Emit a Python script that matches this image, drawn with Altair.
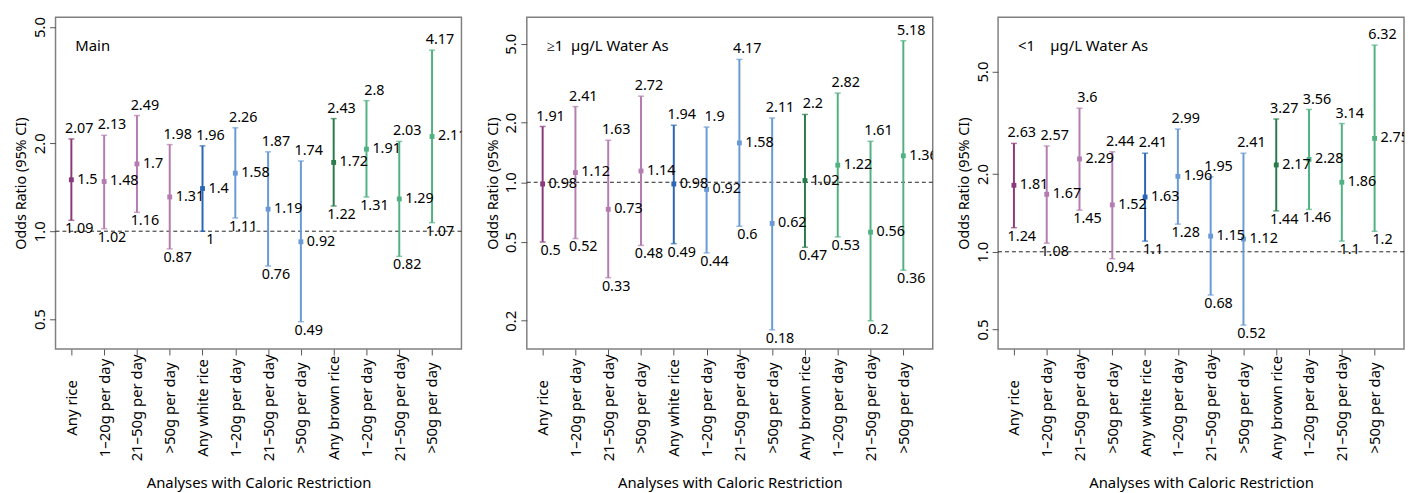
import altair as alt
import pandas as pd

categories = ["Any rice", "1–20g per day", "21–50g per day", ">50g per day",
              "Any white rice", "1–20g per day", "21–50g per day", ">50g per day",
              "Any brown rice", "1–20g per day", "21–50g per day", ">50g per day"]
tones = ["rice_any", "rice_dose", "rice_dose", "rice_dose",
         "white_any", "white_dose", "white_dose", "white_dose",
         "brown_any", "brown_dose", "brown_dose", "brown_dose"]

panel_titles = ["Main", "≥1\u00a0\u00a0µg/L Water As", "<1\u00a0\u00a0\u00a0\u00a0µg/L Water As"]

main_or = [1.5, 1.48, 1.7, 1.31, 1.4, 1.58, 1.19, 0.92, 1.72, 1.91, 1.29, 2.11]
main_lo = [1.09, 1.02, 1.16, 0.87, 1, 1.11, 0.76, 0.49, 1.22, 1.31, 0.82, 1.07]
main_hi = [2.07, 2.13, 2.49, 1.98, 1.96, 2.26, 1.87, 1.74, 2.43, 2.8, 2.03, 4.17]

high_or = [0.98, 1.12, 0.73, 1.14, 0.98, 0.92, 1.58, 0.62, 1.02, 1.22, 0.56, 1.36]
high_lo = [0.5, 0.52, 0.33, 0.48, 0.49, 0.44, 0.6, 0.18, 0.47, 0.53, 0.2, 0.36]
high_hi = [1.91, 2.41, 1.63, 2.72, 1.94, 1.9, 4.17, 2.11, 2.2, 2.82, 1.61, 5.18]

low_or = [1.81, 1.67, 2.29, 1.52, 1.63, 1.96, 1.15, 1.12, 2.17, 2.28, 1.86, 2.75]
low_lo = [1.24, 1.08, 1.45, 0.94, 1.1, 1.28, 0.68, 0.52, 1.44, 1.46, 1.1, 1.2]
low_hi = [2.63, 2.57, 3.6, 2.44, 2.41, 2.99, 1.95, 2.41, 3.27, 3.56, 3.14, 6.32]

y_domains = [[0.395, 5.4], [0.144, 6.8], [0.42, 8.1]]
y_ticks = [[0.5, 1.0, 2.0, 5.0], [0.2, 0.5, 1.0, 2.0, 5.0], [0.5, 1.0, 2.0, 5.0]]

tone_domain = ["rice_any", "rice_dose", "white_any", "white_dose", "brown_any", "brown_dose"]
tone_range = ["#8a3a78", "#b47cb0", "#2a68b5", "#6a9ad6", "#2b7a4c", "#50b282"]

FONT = "Noto Sans"
label_expr = "[" + ",".join('"%s"' % c for c in categories) + "][datum.value]"


def panel(title, ors, los, his, dom, ticks):
    df = pd.DataFrame({
        "idx": list(range(len(categories))),
        "tone": tones,
        "or": ors, "lo": los, "hi": his,
    })
    df["or_t"] = [("%g" % v) for v in ors]
    df["lo_t"] = [("%g" % v) for v in los]
    df["hi_t"] = [("%g" % v) for v in his]

    x = alt.X("idx:O",
              scale=alt.Scale(type="point", padding=0.69, align=0.35),
              axis=alt.Axis(title="Analyses with Caloric Restriction",
                            labelExpr=label_expr, labelAngle=-90,
                            labelAlign="center", labelBaseline="middle",
                            labelPadding=53, tickSize=6, domain=False,
                            labelFontSize=15, titleFontSize=15,
                            titlePadding=15))
    yscale = alt.Scale(type="log", domain=dom, nice=False, zero=False)
    color = alt.Color("tone:N", scale=alt.Scale(domain=tone_domain, range=tone_range), legend=None)

    base = alt.Chart(df).encode(x=x)
    bars = base.mark_rule(strokeWidth=2).encode(
        y=alt.Y("lo:Q", scale=yscale,
                axis=alt.Axis(title="Odds Ratio (95% CI)", values=ticks, format=".1f",
                              labelAngle=-90, labelAlign="center", labelBaseline="bottom",
                              labelFontSize=15, titleFontSize=14.5,
                              tickSize=6, domain=False, grid=False, titlePadding=4)),
        y2="hi:Q", color=color)
    cap_lo = base.mark_tick(size=6, thickness=1.5).encode(y=alt.Y("lo:Q", scale=yscale), color=color)
    cap_hi = base.mark_tick(size=6, thickness=1.5).encode(y=alt.Y("hi:Q", scale=yscale), color=color)
    pts = base.mark_square(size=24, opacity=1).encode(y=alt.Y("or:Q", scale=yscale), color=color)
    t_hi = base.mark_text(dx=8, dy=-3, baseline="bottom", align="center", fontSize=14.5,
                          font=FONT, clip=True, color="black").encode(
        y=alt.Y("hi:Q", scale=yscale), text="hi_t:N")
    t_lo = base.mark_text(dx=8, dy=2, baseline="top", align="center", fontSize=14.5,
                          font=FONT, clip=True, color="black").encode(
        y=alt.Y("lo:Q", scale=yscale), text="lo_t:N")
    t_or = base.mark_text(dx=6, baseline="middle", align="left", fontSize=14.5,
                          font=FONT, clip=True, color="black").encode(
        y=alt.Y("or:Q", scale=yscale), text="or_t:N")
    ref = alt.Chart(pd.DataFrame({"r": [1.0]})).mark_rule(
        strokeDash=[4, 3], color="#222", strokeWidth=1).encode(y=alt.Y("r:Q", scale=yscale))
    lab = alt.Chart(pd.DataFrame({"t": [title]})).mark_text(
        align="left", baseline="middle", fontSize=15, font=FONT, color="black").encode(
        x=alt.value(20), y=alt.value(29), text="t:N")
    return alt.layer(ref, bars, cap_lo, cap_hi, pts, t_hi, t_lo, t_or, lab).properties(
        width=410, height=335)


p1 = panel(panel_titles[0], main_or, main_lo, main_hi, y_domains[0], y_ticks[0])
p2 = panel(panel_titles[1], high_or, high_lo, high_hi, y_domains[1], y_ticks[1])
p3 = panel(panel_titles[2], low_or, low_lo, low_hi, y_domains[2], y_ticks[2])

chart = alt.hconcat(p1, p2, p3, spacing=66, bounds="flush").properties(
    padding={"left": 5, "top": 5, "right": 0, "bottom": 0}
).configure_view(
    stroke="#808080", strokeWidth=1.5
).configure_axis(
    labelFont=FONT, titleFont=FONT,
    titleFontWeight="normal", labelColor="black", titleColor="black",
    tickColor="#555555", grid=False
)

chart.save("out.html", embed_options={"renderer": "svg", "actions": False})
